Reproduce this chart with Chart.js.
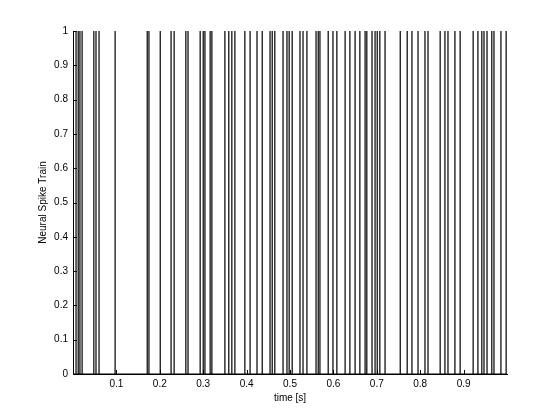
<!DOCTYPE html>
<html>
<head>
<meta charset="utf-8">
<script src="https://cdn.jsdelivr.net/npm/chart.js@4.4.1/dist/chart.umd.min.js"></script>
<style>
  html, body { margin: 0; padding: 0; background: #fff; }
  #wrap { width: 560px; height: 420px; }
</style>
</head>
<body>
<div id="wrap"><canvas id="spikes" width="560" height="420"></canvas></div>
<script>
// spike times in seconds
const spikeTimes = [
    0.007, 0.012, 0.016, 0.021, 0.048, 0.053, 0.060, 0.097,
    0.171, 0.175, 0.201, 0.226, 0.233, 0.260, 0.265,
    0.293, 0.300, 0.304, 0.316, 0.320, 0.350, 0.359, 0.366, 0.373,
    0.396, 0.408, 0.424, 0.436, 0.454, 0.459, 0.465,
    0.484, 0.493, 0.498, 0.505, 0.523, 0.530, 0.539,
    0.560, 0.565, 0.569, 0.588, 0.599, 0.608,
    0.627, 0.638, 0.650, 0.661, 0.673, 0.677, 0.689, 0.696,
    0.701, 0.707, 0.719, 0.754, 0.770, 0.781, 0.795, 0.811, 0.818,
    0.846, 0.857, 0.864, 0.880, 0.892,
    0.922, 0.933, 0.942, 0.947, 0.954, 0.965, 0.970, 0.986, 0.998
];
const xTicks = [0.1, 0.2, 0.3, 0.4, 0.5, 0.6, 0.7, 0.8, 0.9];
const yTicks = [0, 0.1, 0.2, 0.3, 0.4, 0.5, 0.6, 0.7, 0.8, 0.9, 1];

// the train is 0 everywhere and jumps to 1 at each spike
const trainPoints = [{ x: 0, y: 0 }];
spikeTimes.forEach(t => {
    trainPoints.push({ x: t, y: 0 }, { x: t, y: 1 }, { x: t, y: 0 });
});
trainPoints.push({ x: 1, y: 0 });

const font = { family: "'Liberation Sans', Arial, sans-serif", size: 10 };

// matlab style ticks pointing into the axes
const innerTicks = {
    id: 'innerTicks',
    afterDatasetsDraw(chart) {
        const { ctx, scales: { x, y } } = chart;
        ctx.save();
        ctx.strokeStyle = '#000';
        ctx.lineWidth = 1;
        ctx.beginPath();
        xTicks.forEach(v => {
            const px = Math.round(x.getPixelForValue(v)) + 0.5;
            ctx.moveTo(px, y.bottom);
            ctx.lineTo(px, y.bottom - 4);
        });
        yTicks.forEach(v => {
            const py = Math.round(y.getPixelForValue(v)) + 0.5;
            ctx.moveTo(x.left, py);
            ctx.lineTo(x.left + 4, py);
        });
        ctx.stroke();
        ctx.restore();
    }
};

new Chart(document.getElementById('spikes'), {
    type: 'line',
    data: {
        datasets: [{
            data: trainPoints,
            borderColor: '#000',
            borderWidth: 1.2,
            pointRadius: 0,
            tension: 0
        }]
    },
    options: {
        responsive: false,
        animation: false,
        events: [],
        layout: { padding: { top: 31, right: 53, left: 0, bottom: 0 } },
        plugins: { legend: { display: false }, tooltip: { enabled: false } },
        scales: {
            x: {
                type: 'linear',
                min: 0,
                max: 1,
                afterFit: s => { s.height = 46; },
                afterBuildTicks: s => { s.ticks = xTicks.map(v => ({ value: v })); },
                grid: { display: false, drawTicks: false },
                border: { display: true, color: '#000', width: 1 },
                ticks: { color: '#000', font, padding: 4, maxRotation: 0, callback: v => String(v) },
                title: { display: true, text: 'time [s]', color: '#000', font, padding: { top: 0, bottom: 16 } }
            },
            y: {
                type: 'linear',
                min: 0,
                max: 1,
                afterFit: s => { s.width = 73; },
                afterBuildTicks: s => { s.ticks = yTicks.map(v => ({ value: v })); },
                grid: { display: false, drawTicks: false },
                border: { display: true, color: '#000', width: 1 },
                ticks: { color: '#000', font, padding: 5, callback: v => String(v) },
                title: { display: true, text: 'Neural Spike Train', color: '#000', font, padding: { top: 37, bottom: 0 } }
            }
        }
    },
    plugins: [innerTicks]
});
</script>
</body>
</html>
